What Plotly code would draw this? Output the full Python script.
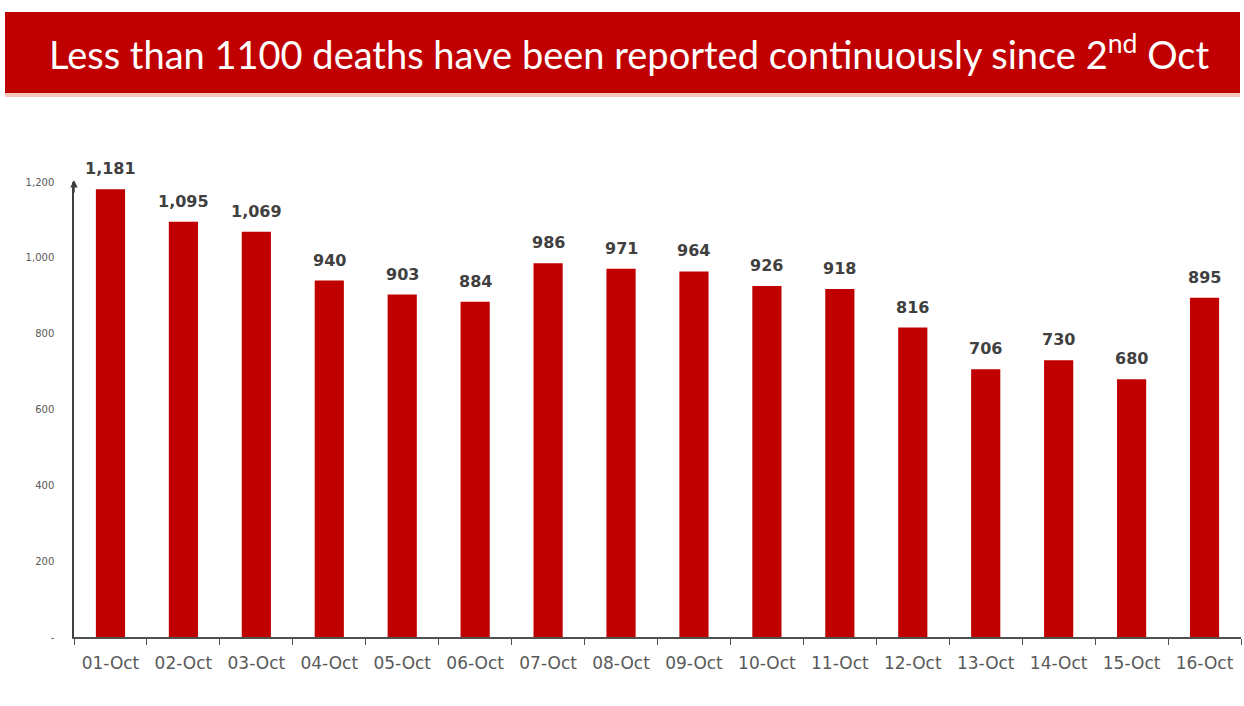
import plotly.graph_objects as go

dates = ["01-Oct", "02-Oct", "03-Oct", "04-Oct", "05-Oct", "06-Oct", "07-Oct", "08-Oct",
         "09-Oct", "10-Oct", "11-Oct", "12-Oct", "13-Oct", "14-Oct", "15-Oct", "16-Oct"]
deaths = [1181, 1095, 1069, 940, 903, 884, 986, 971, 964, 926, 918, 816, 706, 730, 680, 895]
tick_vals = [0, 200, 400, 600, 800, 1000, 1200]
tick_text = ["-", "200", "400", "600", "800", "1,000", "1,200"]
title = "Less than 1100 deaths have been reported continuously since 2<sup>nd</sup> Oct"

RED = "#C00000"

fig = go.Figure(go.Bar(
    x=dates, y=deaths,
    marker=dict(color=RED, line=dict(width=0)),
    cliponaxis=False,
))

W, H = 1244, 706
L, R, T, B = 74, 3, 182, 69
pw, ph = W - L - R, H - T - B

def px(x):
    return (x - L) / pw

def py(y):
    return (H - B - y) / ph

label_annotations = [
    dict(x=d, y=v, xref="x", yref="y", text=f"{v:,}", showarrow=False,
         xanchor="center", yanchor="bottom", yshift=9,
         font=dict(family="DejaVu Sans", size=16, color="#404040", weight="bold"))
    for d, v in zip(dates, deaths)
]

fig.update_layout(
    width=W, height=H,
    margin=dict(l=L, r=R, t=T, b=B),
    paper_bgcolor="white", plot_bgcolor="white",
    bargap=0.6,
    showlegend=False,
    xaxis=dict(
        showline=True, linecolor="#505050", linewidth=1.5,
        ticks="outside", ticklen=6, tickcolor="#505050", tickson="boundaries",
        tickfont=dict(family="DejaVu Sans", size=17, color="#595959"),
        showgrid=False, ticklabelstandoff=10,
    ),
    yaxis=dict(
        range=[0, 1200],
        tickvals=tick_vals, ticktext=tick_text,
        showline=True, linecolor="#404040", linewidth=1.5,
        tickfont=dict(family="DejaVu Sans", size=10, color="#595959"),
        showgrid=False, zeroline=False, ticks="", ticklabelstandoff=16,
    ),
    shapes=[
        dict(type="rect", xref="paper", yref="paper",
             x0=px(5), x1=px(1240), y0=py(93), y1=py(12),
             fillcolor=RED, line=dict(width=0), layer="above"),
        dict(type="rect", xref="paper", yref="paper",
             x0=px(5), x1=px(1240), y0=py(97), y1=py(93),
             fillcolor="#F4C9BC", line=dict(width=0), layer="above"),
    ],
    annotations=label_annotations + [
        dict(text=title, xref="paper", yref="paper", x=px(629), y=py(52),
             xanchor="center", yanchor="middle", showarrow=False,
             font=dict(family="Lato", size=38, color="white")),
        dict(xref="paper", yref="paper", x=0, y=py(180), ax=0, ay=14,
             text="", showarrow=True,
             arrowhead=2, arrowsize=1, arrowwidth=1.5, arrowcolor="#404040"),
    ],
)

fig.write_html("out.html", config={"displayModeBar": False},
               post_script="document.body.style.margin='0';")
